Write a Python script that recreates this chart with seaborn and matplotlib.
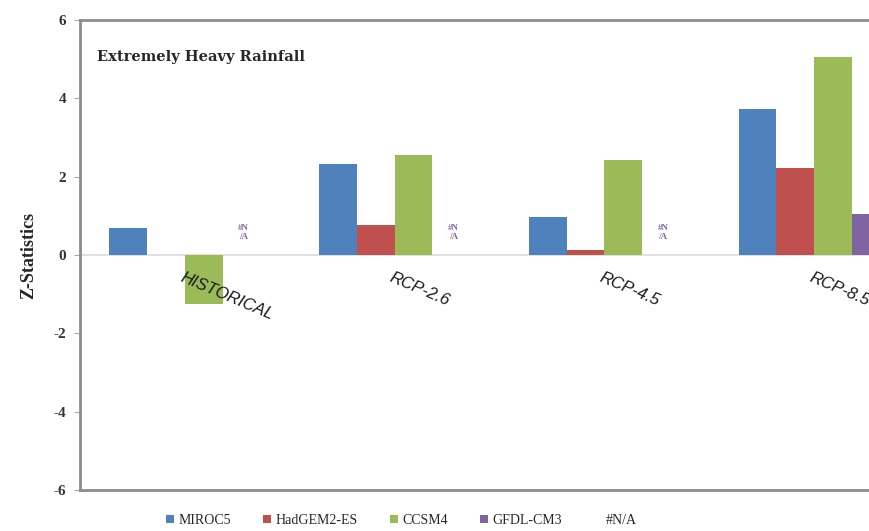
import numpy as np
import pandas as pd
import matplotlib.pyplot as plt
import matplotlib.patches as mpatches
import seaborn as sns

# Data
scenarios = ['HISTORICAL', 'RCP-2.6', 'RCP-4.5', 'RCP-8.5']
models = ['MIROC5', 'HadGEM2-ES', 'CCSM4', 'GFDL-CM3']
miroc5 = [0.68, 2.32, 0.96, 3.72]
hadgem = [0.0, 0.77, 0.12, 2.22]
ccsm4 = [-1.25, 2.55, 2.42, 5.05]
gfdl = [np.nan, np.nan, np.nan, 1.05]   # #N/A for first three
na_label = '#N/A'
colors = ['#4F81BD', '#C0504D', '#9BBB59', '#8064A2']

df = pd.DataFrame({
    'scenario': scenarios * 4,
    'model': np.repeat(models, 4),
    'z': miroc5 + hadgem + ccsm4 + gfdl,
})

sns.set_style('white')
plt.rcParams['font.family'] = ['Liberation Serif', 'DejaVu Serif']

fig = plt.figure(figsize=(8.69, 5.31), dpi=100)
ax = fig.add_axes([0.092, 0.0772, 0.9655, 0.885])

sns.barplot(data=df.dropna(), x='scenario', y='z', hue='model', order=scenarios,
            hue_order=models, palette=colors, width=0.72, errorbar=None,
            saturation=1, linewidth=0, ax=ax)

ax.set_ylim(-6, 6)
ax.set_xlim(-0.5, len(scenarios) - 0.5)
ax.set_yticks(range(-6, 7, 2))
ax.set_yticklabels([str(v) for v in range(-6, 7, 2)], fontsize=11, fontweight='bold',
                   color='#333333')
ax.tick_params(axis='y', length=4, color='#aaaaaa', left=True, pad=6)
ax.set_xticks([])
ax.set_xlabel('')
ax.set_ylabel('Z-Statistics', fontsize=13, fontweight='bold', labelpad=12)
ax.axhline(0, color='#dcdcdc', lw=1.2, zorder=0)

for s in ax.spines.values():
    s.set_color('#8c8c8c')
    s.set_linewidth(2)

# category labels next to the zero line (last one runs off the edge, as in the original)
for i, name in enumerate(scenarios):
    ax.text(i - 0.005, -0.38, name, rotation=-23, rotation_mode='anchor',
            ha='left', va='top', fontsize=12, fontstyle='italic',
            family=['Liberation Sans', 'DejaVu Sans'], color='#1a1a1a')

# #N/A markers where GFDL-CM3 has no value
for i, v in enumerate(gfdl):
    if np.isnan(v):
        ax.text(i + 0.28, 0.58, '#N\n/A', ha='center', va='center', fontsize=6.5,
                fontweight='bold', color='#8064A2', linespacing=1.1)

ax.text(0.02, 0.921, 'Extremely Heavy Rainfall', transform=ax.transAxes,
        fontsize=10.5, fontweight='bold', va='center', ha='left',
        family=['DejaVu Serif'])

handles, labels = ax.get_legend_handles_labels()
handles.append(mpatches.Patch(facecolor='none', edgecolor='none'))
labels.append(na_label)
ax.legend(handles, labels, loc='center', bbox_to_anchor=(0.462, 0.02),
          bbox_transform=fig.transFigure, ncol=5, frameon=False, fontsize=10,
          handlelength=0.6, handleheight=0.6, handletextpad=0.3, columnspacing=2.3)

plt.savefig('out.png', dpi=100)
